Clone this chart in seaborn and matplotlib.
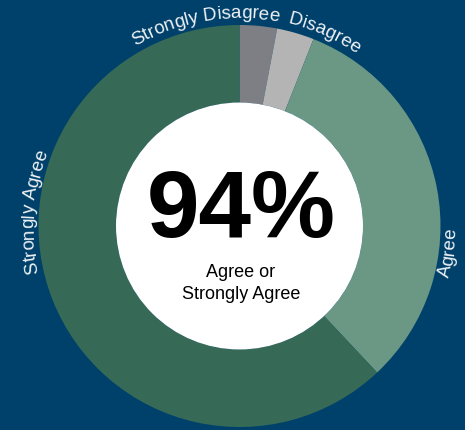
import matplotlib
matplotlib.use("Agg")
import matplotlib.pyplot as plt
import seaborn as sns
import numpy as np
from matplotlib.patches import Circle
from matplotlib.font_manager import FontProperties

# ---- data ----
categories = ["Strongly Disagree", "Disagree", "Agree", "Strongly Agree"]
values = [3, 3, 32, 62]
colors = ["#7E7F84", "#B4B4B4", "#6A9885", "#376A56"]
center_value = "94%"
center_caption = ["Agree or", "Strongly Agree"]
# label placement: (compass angle of label centre, baseline radius, reading direction)
label_angles = [-9.7, 23.5, 97.1, -85.7]
label_radii = [209, 209, 216, 206]
label_dirs = [1, 1, -1, 1]

sns.set_theme(style="white")
plt.rcParams['font.family'] = ['Liberation Sans', 'DejaVu Sans']

W, H = 465, 431
bg = "#00416B"
fig = plt.figure(figsize=(W / 100, H / 100), dpi=100)
fig.patch.set_facecolor(bg)
ax = fig.add_axes([0, 0, 1, 1])
ax.set_facecolor(bg)

cx, cy = 239.5, H - 227
R, r = 201, 123.5
palette = sns.color_palette(colors)
ax.pie(values, colors=palette, startangle=90, counterclock=False,
       radius=R, center=(cx, cy),
       wedgeprops=dict(width=R - r, linewidth=0))
ax.add_patch(Circle((cx, cy), r, facecolor="white", edgecolor="none", zorder=5))
ax.set_xlim(0, W)
ax.set_ylim(0, H)
ax.set_aspect("auto")
ax.axis("off")

# ---- curved labels ----
renderer = fig.canvas.get_renderer()
label_fs = 13.5
fp = FontProperties(family=['Liberation Sans', 'DejaVu Sans'], size=label_fs)


def width(s):
    w, h, d = renderer.get_text_width_height_descent(s, fp, ismath=False)
    return w


def adv(s):
    return width("|" + s + "|") - width("||")


def curved_text(text, theta_c, rad, direction, color):
    L = adv(text)
    for i, ch in enumerate(text):
        if ch == " ":
            continue
        s = (adv(text[:i]) + adv(text[:i + 1])) / 2.0
        th = np.radians(theta_c) + direction * (s - L / 2.0) / rad
        x = cx + rad * np.sin(th)
        y = cy + rad * np.cos(th)
        deg = np.degrees(th)
        rot = -deg if direction == 1 else 180 - deg
        ax.text(x, y, ch, rotation=rot, rotation_mode="anchor",
                ha="center", va="baseline", fontsize=label_fs,
                color=color, zorder=7)


for cat, a, rr, d in zip(categories, label_angles, label_radii, label_dirs):
    curved_text(cat, a, rr, d, "#EEF2F5")

# ---- centre text ----
ax.text(241, H - 237, center_value, fontsize=68, fontweight="bold",
        ha="center", va="baseline", color="black", zorder=8)
ax.text(241, H - 277, center_caption[0], fontsize=13, ha="center",
        va="baseline", color="black", zorder=8)
ax.text(241, H - 299, center_caption[1], fontsize=13, ha="center",
        va="baseline", color="black", zorder=8)

fig.savefig("out.png", dpi=100, facecolor=bg)
